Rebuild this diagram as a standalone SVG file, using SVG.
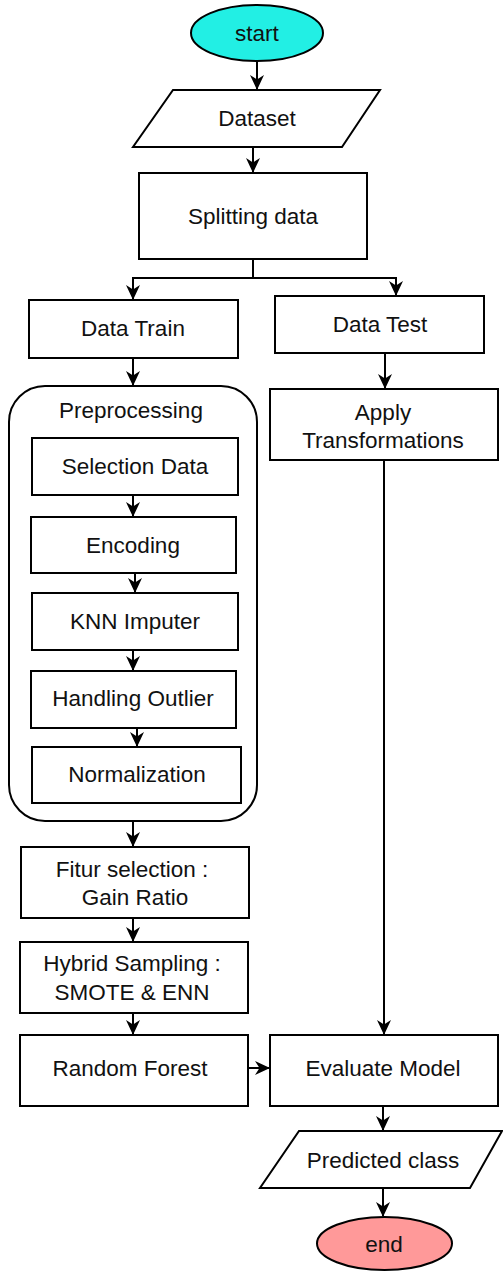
<svg xmlns="http://www.w3.org/2000/svg" width="503" height="1272" viewBox="0 0 503 1272">
<style>
.s{fill:#fff;stroke:#000;stroke-width:2}
.t{font-family:"Liberation Sans",Arial,sans-serif;font-size:22.5px;fill:#111;text-anchor:middle;dominant-baseline:central}
.c{fill:none;stroke:#000;stroke-width:2}
</style>
<defs>
<marker id="a" viewBox="0 0 15 14" refX="14" refY="7" markerWidth="15" markerHeight="14" orient="auto" markerUnits="userSpaceOnUse">
<path d="M0,0 L15,7 L0,14 L4.5,7 z" fill="#000"/>
</marker>
</defs>
<g id="start"><ellipse class="s" cx="257" cy="33" rx="66" ry="28" style="fill:#22efe4"/><text class="t" x="257" y="33">start</text></g>
<g id="dataset"><path class="s" d="M173,90 H380 L342,147 H133 Z"/><text class="t" x="257" y="118">Dataset</text></g>
<g id="splitting"><rect class="s" x="139" y="173" width="228" height="86"/><text class="t" x="253" y="216">Splitting data</text></g>
<g id="datatrain"><rect class="s" x="29" y="300" width="209" height="58"/><text class="t" x="133" y="328">Data Train</text></g>
<g id="datatest"><rect class="s" x="275" y="296" width="209" height="57"/><text class="t" x="380" y="324">Data Test</text></g>
<g id="preprocessing"><rect class="s" x="9" y="386" width="248" height="435" rx="36" ry="36"/><text class="t" x="131" y="410">Preprocessing</text></g>
<g id="apply"><rect class="s" x="270" y="389" width="228" height="71"/><text class="t" x="383" y="412">Apply</text><text class="t" x="383" y="440">Transformations</text></g>
<g id="selection"><rect class="s" x="32" y="438" width="206" height="57"/><text class="t" x="135" y="466">Selection Data</text></g>
<g id="encoding"><rect class="s" x="31" y="517" width="205" height="56"/><text class="t" x="133" y="545">Encoding</text></g>
<g id="knn"><rect class="s" x="32" y="593" width="206" height="57"/><text class="t" x="135" y="621">KNN Imputer</text></g>
<g id="outlier"><rect class="s" x="31" y="671" width="205" height="57"/><text class="t" x="133" y="698">Handling Outlier</text></g>
<g id="normalization"><rect class="s" x="32" y="747" width="209" height="56"/><text class="t" x="137" y="774">Normalization</text></g>
<g id="fitur"><rect class="s" x="21" y="847" width="228" height="71"/><text class="t" x="132" y="869">Fitur selection :</text><text class="t" x="135" y="897">Gain Ratio</text></g>
<g id="hybrid"><rect class="s" x="20" y="942" width="228" height="71"/><text class="t" x="132" y="963">Hybrid Sampling :</text><text class="t" x="132" y="992">SMOTE &amp; ENN</text></g>
<g id="rf"><rect class="s" x="20" y="1035" width="228" height="71"/><text class="t" x="130" y="1068">Random Forest</text></g>
<g id="evaluate"><rect class="s" x="270" y="1035" width="228" height="71"/><text class="t" x="383" y="1068">Evaluate Model</text></g>
<g id="predicted"><path class="s" d="M299,1131 H502 L470,1188 H260 Z"/><text class="t" x="383" y="1160">Predicted class</text></g>
<g id="end"><ellipse class="s" cx="384.5" cy="1243.5" rx="67.5" ry="26.5" style="fill:#ff9999"/><text class="t" x="384" y="1244">end</text></g>
<g id="connectors">
<path class="c" d="M257,62 V89" marker-end="url(#a)"/>
<path class="c" d="M253,147 V172" marker-end="url(#a)"/>
<path class="c" d="M253,259 V278 H133 V299" marker-end="url(#a)"/>
<path class="c" d="M253,278 H396 V295" marker-end="url(#a)"/>
<path class="c" d="M133,358 V385" marker-end="url(#a)"/>
<path class="c" d="M385,353 V388" marker-end="url(#a)"/>
<path class="c" d="M133,495 V516" marker-end="url(#a)"/>
<path class="c" d="M135,573 V592" marker-end="url(#a)"/>
<path class="c" d="M133,650 V670" marker-end="url(#a)"/>
<path class="c" d="M137,728 V746" marker-end="url(#a)"/>
<path class="c" d="M133,821 V846" marker-end="url(#a)"/>
<path class="c" d="M133,918 V941" marker-end="url(#a)"/>
<path class="c" d="M133,1013 V1034" marker-end="url(#a)"/>
<path class="c" d="M248,1068 H269" marker-end="url(#a)"/>
<path class="c" d="M384,460 V1034" marker-end="url(#a)"/>
<path class="c" d="M383,1106 V1130" marker-end="url(#a)"/>
<path class="c" d="M383,1188 V1216" marker-end="url(#a)"/>
</g>
</svg>
